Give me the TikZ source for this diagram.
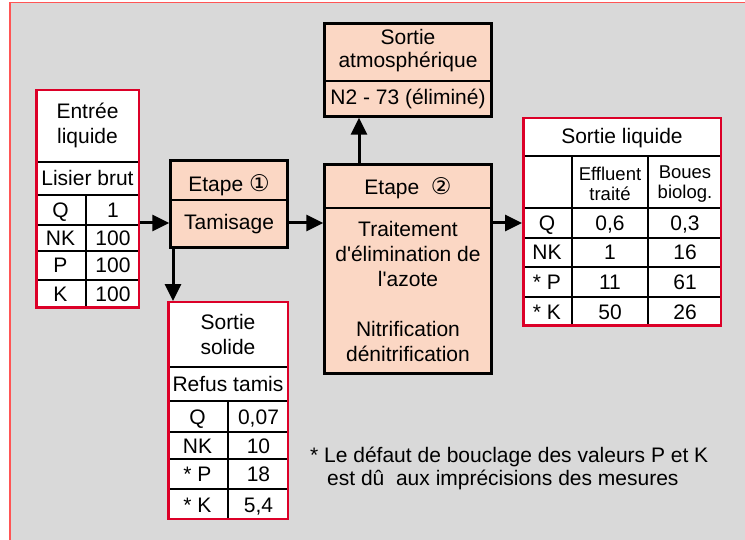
\documentclass[tikz,border=0pt]{standalone}
\usepackage{fontspec}
\setmainfont{Liberation Sans}
\newfontfamily\circfont{DejaVu Sans}
\usetikzlibrary{arrows.meta}
\definecolor{bggray}{RGB}{217,217,217}
\definecolor{bgred}{RGB}{255,85,85}
\definecolor{tabred}{RGB}{220,0,40}
\definecolor{stepfill}{RGB}{251,215,196}
\newcommand{\circnum}[1]{{\circfont\fontsize{23}{25}\selectfont #1}}
\tikzset{
  tabbox/.style={draw=tabred, line width=2.5pt, fill=white, inner sep=0pt, outer sep=0pt},
  stepbox/.style={draw=black, line width=3pt, fill=stepfill, inner sep=0pt, outer sep=0pt},
  rule/.style={line width=1.1pt},
  txt/.style={font=\fontsize{21}{25}\selectfont, align=center, inner sep=0pt},
  cell/.style={txt, text height=15pt, text depth=0pt},
  small/.style={font=\fontsize{18.5}{20}\selectfont, align=center, inner sep=0pt},
  flow/.style={line width=3pt, -{Triangle[length=17pt,width=16pt]}, shorten >=1.2pt},
}
\begin{document}
\begin{tikzpicture}[x=1pt,y=-1pt]
\useasboundingbox (0,0) rectangle (745,540);
\fill[bggray] (10,2.5) rectangle (745,540);
\draw[bgred,line width=1.5pt] (10,540) -- (10,2.5) -- (745,2.5);

% boxes
\node[tabbox, minimum width=102.5pt, minimum height=217.5pt] (entree) at (87.5,199) {};
\node[stepbox, minimum width=117pt, minimum height=87pt] (etapeA) at (229,204) {};
\node[tabbox, minimum width=119.5pt, minimum height=216.5pt] (solide) at (228,410.5) {};
\node[stepbox, minimum width=167pt, minimum height=209pt] (etapeB) at (408,269) {};
\node[stepbox, minimum width=167pt, minimum height=93pt] (atmo) at (408,70) {};
\node[tabbox, minimum width=197.5pt, minimum height=207.5pt] (liquide) at (622,222) {};

% table rules
\foreach \y in {162,195,225,251,280} \draw[rule] (35,\y) -- (140,\y);
\draw[rule] (86,195) -- (86,309);
\foreach \y in {367,401,432,459,489} \draw[rule] (167,\y) -- (289,\y);
\draw[rule] (228,401) -- (228,520);
\foreach \y in {156,208,238,267,297} \draw[rule] (522,\y) -- (722,\y);
\draw[rule] (572,156) -- (572,327);
\draw[rule] (648,156) -- (648,327);
\draw[line width=1.5pt] (169,200) -- (289,200);
\draw[line width=1.5pt] (323,208) -- (493,208);
\draw[line width=1.5pt] (323,81) -- (493,81);

% entree liquide
\node[txt] (e-head) at (87.5,125.5) {Entrée\\liquide};
\node[cell] (e-sub) at (87.5,178.5) {Lisier brut};
\foreach \y/\lab/\val [count=\i] in {210/Q/1, 238/NK/100, 265.5/P/100, 294.5/K/100} {
  \node[cell] (e-lab-\i) at (60.5,\y) {\lab};
  \node[cell] (e-val-\i) at (113,\y) {\val};
}

% etapes
\node[cell] (a-title) at (229,184) {Etape \circnum{①}};
\node[cell] (a-body) at (229,222.5) {Tamisage};
\node[cell] (b-title) at (408,187) {Etape\ \ \circnum{②}};
\node[txt] (b-body) at (408,291) {Traitement\\d\textquotesingle élimination de\\l\textquotesingle azote\\[25pt]Nitrification\\dénitrification};
\node[txt, font=\fontsize{21}{23}\selectfont] (m-head) at (408,51) {Sortie\\atmosphérique};
\node[cell] (m-sub) at (408,97.5) {N2 - 73 (éliminé)};

% sortie solide
\node[txt] (s-head) at (228,334) {Sortie\\solide};
\node[cell] (s-sub) at (228,384) {Refus tamis};
\foreach \y/\lab/\val [count=\i] in {416.5/Q/{0,07}, 445.5/NK/10, 474/* P/18, 504.5/* K/{5,4}} {
  \node[cell] (s-lab-\i) at (197.5,\y) {\lab};
  \node[cell] (s-val-\i) at (258.5,\y) {\val};
}

% sortie liquide
\node[cell] (l-head) at (622,136.5) {Sortie liquide};
\node[small] (l-col1) at (610,184) {Effluent\\traité};
\node[small] (l-col2) at (685,184) {Boues\\biolog.};
\foreach \y/\lab/\va/\vb [count=\i] in {223/Q/{0,6}/{0,3}, 252.5/NK/1/16, 282/* P/11/61, 312/* K/50/26} {
  \node[cell] (l-lab-\i) at (547,\y) {\lab};
  \node[cell] (l-va-\i) at (610,\y) {\va};
  \node[cell] (l-vb-\i) at (685,\y) {\vb};
}

\node[txt, align=left, anchor=north west, font=\fontsize{21}{23.3}\selectfont] (note) at (310,447)
  {* Le défaut de bouclage des valeurs P et K\\\hspace*{17pt}est dû\ \ aux imprécisions des mesures};

% flows
\coordinate (mainflow) at (0,223);
\coordinate (dropline) at (173,0);
\coordinate (upline) at (359,0);
\draw[flow] (entree.east |- mainflow) -- (etapeA.west |- mainflow);
\draw[flow] (etapeA.east |- mainflow) -- (etapeB.west |- mainflow);
\draw[flow] (etapeB.east |- mainflow) -- (liquide.west |- mainflow);
\draw[flow] (etapeA.south -| dropline) -- (solide.north -| dropline);
\draw[flow] (etapeB.north -| upline) -- (atmo.south -| upline);

\foreach \n in {entree,solide,liquide}
  \draw[tabred, line width=2.5pt] (\n.north west) rectangle (\n.south east);
\end{tikzpicture}
\end{document}
